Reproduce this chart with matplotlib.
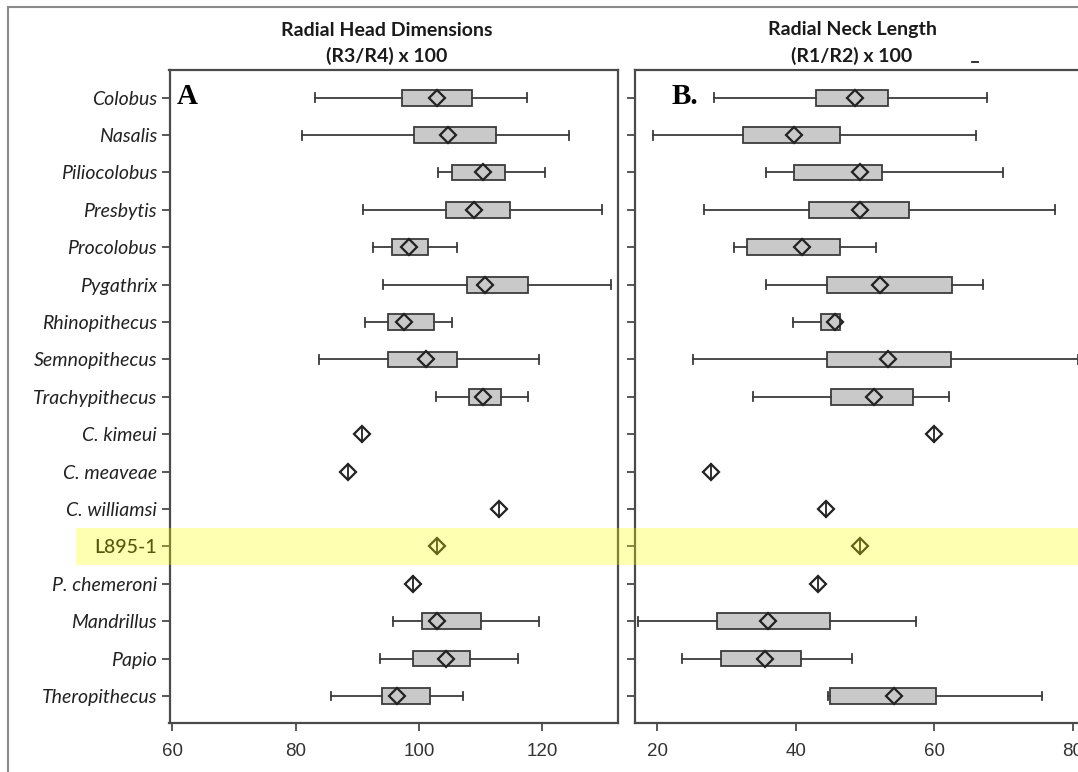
import numpy as np
import matplotlib
matplotlib.use("Agg")
import matplotlib.pyplot as plt
from matplotlib.lines import Line2D
from matplotlib.patches import Rectangle
from matplotlib.transforms import blended_transform_factory

nan = np.nan

species = ["Colobus", "Nasalis", "Piliocolobus", "Presbytis", "Procolobus",
           "Pygathrix", "Rhinopithecus", "Semnopithecus", "Trachypithecus",
           "C. kimeui", "C. meaveae", "C. williamsi", "L895-1", "P. chemeroni",
           "Mandrillus", "Papio", "Theropithecus"]
highlight = "L895-1"

# Radial head dimensions, (R3/R4) x 100
head_low = [83.1, 81.1, 103.1, 91.0, 92.5, 94.2, 91.2, 83.8, 102.7,
            nan, nan, nan, nan, nan, 95.8, 93.6, 85.7]
head_q1 = [97.3, 99.2, 105.4, 104.3, 95.7, 107.8, 95.0, 95.0, 108.1,
           nan, nan, nan, nan, nan, 100.5, 99.1, 94.0]
head_mean = [102.9, 104.7, 110.4, 108.9, 98.4, 110.7, 97.5, 101.1, 110.3,
             90.8, 88.5, 113.0, 102.9, 99.1, 103.0, 104.4, 96.4]
head_q3 = [108.6, 112.5, 114.0, 114.8, 101.4, 117.6, 102.4, 106.2, 113.3,
           nan, nan, nan, nan, nan, 110.0, 108.3, 101.8]
head_high = [117.5, 124.4, 120.5, 129.7, 106.1, 131.1, 105.4, 119.5, 117.7,
             nan, nan, nan, nan, nan, 119.5, 116.0, 107.2]

# Radial neck length, (R1/R2) x 100
neck_low = [28.1, 19.3, 35.7, 26.7, 31.0, 35.7, 39.6, 25.2, 33.8,
            nan, nan, nan, nan, nan, 17.2, 23.6, 44.7]
neck_q1 = [42.9, 32.4, 39.7, 41.9, 33.0, 44.5, 43.6, 44.5, 45.1,
           nan, nan, nan, nan, nan, 28.6, 29.2, 44.9]
neck_mean = [48.6, 39.7, 49.2, 49.2, 40.9, 52.2, 45.6, 53.3, 51.3,
             60.0, 27.7, 44.3, 49.2, 43.2, 36.0, 35.6, 54.2]
neck_q3 = [53.3, 46.3, 52.4, 56.4, 46.3, 62.5, 46.4, 62.4, 56.9,
           nan, nan, nan, nan, nan, 44.9, 40.7, 60.2]
neck_high = [67.6, 66.0, 69.9, 77.5, 51.5, 67.0, 46.4, 80.7, 62.1,
             nan, nan, nan, nan, nan, 57.3, 48.1, 75.6]

head_ticks = [60, 80, 100, 120]
neck_ticks = [20, 40, 60, 80]

W, H = 1078, 772
DARK = "#3c3c3c"
BOX_FILL = "#c9c9c9"

fig = plt.figure(figsize=(W / 100, H / 100), dpi=100)
fig.patch.set_facecolor("white")


def px_rect(x0, x1, y_top, y_bot):
    return [x0 / W, 1 - y_bot / H, (x1 - x0) / W, (y_bot - y_top) / H]


axA = fig.add_axes(px_rect(169.5, 617.7, 70, 723.3))
axB = fig.add_axes(px_rect(635.3, 1082, 70, 723.3))


def draw_panel(ax, low, q1, mean, q3, high, xlim, ticks):
    n = len(species)
    stats, pos = [], []
    for i in range(n):
        if np.isnan(q1[i]):
            continue
        stats.append(dict(whislo=low[i], q1=q1[i], med=mean[i], q3=q3[i],
                          whishi=high[i], fliers=[]))
        pos.append(i)
    ax.bxp(stats, positions=pos, orientation="horizontal", widths=0.42,
           capwidths=0.24, patch_artist=True, showfliers=False,
           boxprops=dict(facecolor=BOX_FILL, edgecolor=DARK, linewidth=1.3),
           whiskerprops=dict(color=DARK, linewidth=1.3),
           capprops=dict(color=DARK, linewidth=1.3),
           medianprops=dict(linewidth=0))
    ys = np.arange(n)
    ax.plot(mean, ys, linestyle="none", marker="D", markersize=7.8,
            markerfacecolor="none", markeredgecolor="#222222",
            markeredgewidth=1.6, zorder=5)
    # single specimens: diamond with a vertical stroke through it
    for i in range(n):
        if np.isnan(q1[i]):
            ax.plot([mean[i], mean[i]], [i - 0.2, i + 0.2], color="#222222",
                    linewidth=1.3, zorder=5)
    ax.set_xlim(*xlim)
    ax.set_ylim(16.73, -0.74)
    ax.set_xticks(ticks)
    ax.set_xticklabels([str(t) for t in ticks])
    ax.set_yticks(ys)
    for s in ax.spines.values():
        s.set_color("#4a4a4a")
        s.set_linewidth(1.6)
    ax.tick_params(axis="both", direction="out", length=6, width=1.3,
                   color="#4a4a4a")
    ax.tick_params(axis="x", labelsize=13.5, labelcolor="#333333", pad=8)
    for lab in ax.get_xticklabels():
        lab.set_family("Liberation Sans")


draw_panel(axA, head_low, head_q1, head_mean, head_q3, head_high,
           (59.55, 132.22), head_ticks)
draw_panel(axB, neck_low, neck_q1, neck_mean, neck_q3, neck_high,
           (16.8, 81.33), neck_ticks)

axA.set_yticklabels(species)
axA.tick_params(axis="y", pad=3, labelsize=14, labelcolor="#222222")
for lab in axA.get_yticklabels():
    lab.set_family("Lato")
    if lab.get_text() == highlight:
        lab.set_style("normal")
        lab.set_weight("medium")
        lab.set_color("#111111")
    else:
        lab.set_style("italic")
axB.set_yticklabels([])

# panel titles
title_kw = dict(ha="center", va="center", fontsize=14, family="Lato",
                weight="bold", color="#1a1a1a")
fig.text(386.5 / W, 1 - 30 / H, "Radial Head Dimensions", **title_kw)
fig.text(386.5 / W, 1 - 56 / H, "(R3/R4) x 100", **title_kw)
fig.text(852 / W, 1 - 30 / H, "Radial Neck Length", **title_kw)
fig.text(852 / W, 1 - 56 / H, "(R1/R2) x 100", **title_kw)
fig.add_artist(Line2D([972 / W, 978 / W], [1 - 62 / H, 1 - 62 / H],
                      color="#222222", linewidth=1.3))

# panel letters
fig.text(177 / W, 1 - 104 / H, "A", ha="left", va="baseline", fontsize=21,
         family="Liberation Serif", weight="bold", color="black")
fig.text(672 / W, 1 - 104 / H, "B.", ha="left", va="baseline", fontsize=21,
         family="Liberation Serif", weight="bold", color="black")

# outer frame (left and top edges)
fig.add_artist(Line2D([8 / W, 8 / W], [0, 1 - 7 / H], color="#8a8a8a",
                      linewidth=1.5))
fig.add_artist(Line2D([8 / W, 1], [1 - 7 / H, 1 - 7 / H], color="#8a8a8a",
                      linewidth=1.5))

# translucent band over the highlighted specimen row
row = species.index(highlight)
band_tf = blended_transform_factory(fig.transFigure, axA.transData)
fig.add_artist(Rectangle((76 / W, row - 0.5), 1.0, 1.0, transform=band_tf,
                         facecolor=(1.0, 1.0, 0.0), alpha=0.3,
                         edgecolor="none", zorder=10))

fig.savefig("out.png", dpi=100)
